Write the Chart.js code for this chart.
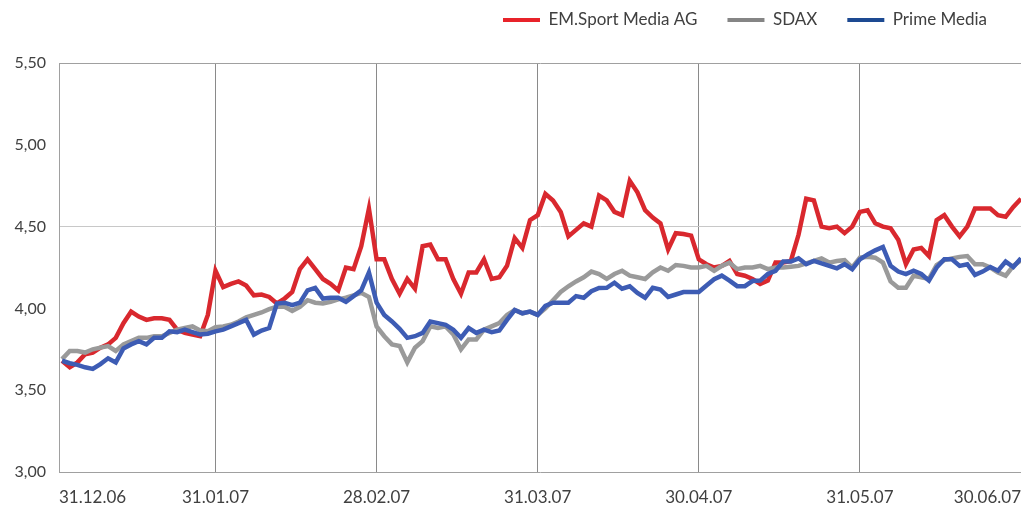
<!DOCTYPE html>
<html><head><meta charset="utf-8">
<script src="https://cdn.jsdelivr.net/npm/chart.js@4.4.1/dist/chart.umd.min.js"></script>
<style>html,body{margin:0;padding:0;background:#fff;overflow:hidden;}</style>
</head><body>
<canvas id="c" width="1021" height="505"></canvas>
<script>
const seriesNames = ['EM.Sport Media AG', 'SDAX', 'Prime Media'];
const emSport = [3.68,3.64,3.67,3.72,3.73,3.76,3.78,3.82,3.91,3.98,
3.95,3.93,3.94,3.94,3.93,3.87,3.85,3.84,3.83,3.96,
4.23,4.13,4.15,4.165,4.14,4.08,4.085,4.07,4.03,4.06,
4.10,4.24,4.30,4.24,4.18,4.15,4.11,4.25,4.24,4.38,
4.61,4.30,4.30,4.18,4.09,4.18,4.12,4.38,4.39,4.30,
4.30,4.18,4.09,4.22,4.22,4.30,4.18,4.19,4.26,4.43,
4.37,4.54,4.57,4.70,4.66,4.59,4.44,4.48,4.52,4.50,
4.69,4.66,4.59,4.57,4.78,4.71,4.60,4.555,4.52,4.36,
4.46,4.455,4.445,4.30,4.27,4.25,4.26,4.29,4.21,4.20,
4.18,4.15,4.17,4.28,4.28,4.29,4.45,4.67,4.66,4.50,
4.49,4.50,4.46,4.50,4.59,4.60,4.52,4.50,4.49,4.42,
4.27,4.36,4.37,4.32,4.54,4.57,4.50,4.44,4.50,4.61,
4.61,4.61,4.57,4.56,4.62,4.67];
const sdax = [3.69,3.74,3.74,3.73,3.75,3.76,3.77,3.74,3.78,3.80,
3.82,3.82,3.83,3.83,3.85,3.87,3.88,3.89,3.865,3.86,
3.885,3.89,3.90,3.92,3.945,3.96,3.975,3.995,4.01,4.01,
3.985,4.01,4.05,4.035,4.03,4.04,4.055,4.065,4.08,4.095,
4.07,3.89,3.83,3.78,3.77,3.67,3.76,3.80,3.89,3.88,
3.89,3.84,3.75,3.81,3.81,3.87,3.89,3.91,3.96,3.99,
3.97,3.98,3.96,4.00,4.05,4.10,4.135,4.165,4.19,4.225,
4.21,4.18,4.21,4.23,4.20,4.19,4.18,4.22,4.25,4.23,
4.265,4.26,4.25,4.25,4.26,4.23,4.26,4.28,4.24,4.25,
4.25,4.26,4.24,4.25,4.25,4.255,4.26,4.275,4.29,4.305,
4.28,4.29,4.295,4.25,4.31,4.315,4.31,4.28,4.165,4.126,
4.126,4.20,4.19,4.18,4.265,4.295,4.305,4.315,4.32,4.27,
4.27,4.25,4.22,4.20,4.26,4.295];
const primeMedia = [3.68,3.665,3.655,3.64,3.63,3.66,3.695,3.67,3.755,3.78,
3.80,3.78,3.82,3.82,3.86,3.855,3.87,3.855,3.84,3.845,
3.86,3.87,3.89,3.91,3.93,3.84,3.865,3.88,4.03,4.035,
4.02,4.035,4.11,4.125,4.06,4.065,4.065,4.04,4.075,4.11,
4.22,4.035,3.96,3.92,3.875,3.82,3.83,3.85,3.92,3.91,
3.90,3.87,3.82,3.88,3.85,3.87,3.855,3.865,3.93,3.99,
3.97,3.98,3.96,4.015,4.035,4.035,4.035,4.075,4.065,4.105,
4.125,4.126,4.157,4.12,4.135,4.095,4.065,4.126,4.115,4.07,
4.085,4.10,4.10,4.10,4.14,4.178,4.20,4.17,4.136,4.136,
4.167,4.17,4.21,4.23,4.286,4.286,4.306,4.27,4.29,4.275,
4.26,4.245,4.27,4.24,4.30,4.33,4.355,4.376,4.26,4.225,
4.21,4.23,4.21,4.17,4.25,4.30,4.30,4.26,4.27,4.205,
4.225,4.253,4.23,4.286,4.253,4.306];
const tickPositions = [-0.4, 20, 41, 62, 83, 104, 125];
const tickLabels = ['31.12.06','31.01.07','28.02.07','31.03.07','30.04.07','31.05.07','30.06.07'];
const lineColors = ['#d9282e', '#9a9a9a', '#3d5cb4'];
const legendColors = ['#e8232a', '#858585', '#1d4a92'];

const FONT = 'Lato, "Open Sans", sans-serif';
const LEG_PAD = 30;
const toPts = arr => arr.map((v, i) => ({x: i, y: v}));

const layoutFix = {
  id: 'layoutFix',
  beforeLayout(chart) {
    const lg = chart.legend;
    if (lg && !lg._patched) {
      const orig = lg.fit.bind(lg);
      lg.fit = function () { orig(); this.height = 63; };
      lg._patched = true;
    }
  },
  afterLayout(chart) {
    const lg = chart.legend;
    if (lg) {
      const dy = LEG_PAD + 8.5 - 20;
      lg.top -= dy; lg.bottom -= dy;
      lg.right = 987 + LEG_PAD;
    }
  }
};

new Chart(document.getElementById('c'), {
  type: 'line',
  data: {
    datasets: [
      {label: seriesNames[0], data: toPts(emSport), borderColor: lineColors[0], order: 3},
      {label: seriesNames[1], data: toPts(sdax), borderColor: lineColors[1], order: 2},
      {label: seriesNames[2], data: toPts(primeMedia), borderColor: lineColors[2], order: 1}
    ]
  },
  options: {
    responsive: false,
    animation: false,
    devicePixelRatio: 1,
    layout: {padding: 0},
    elements: {
      line: {borderWidth: 4.5, tension: 0, borderJoinStyle: 'miter', fill: false},
      point: {radius: 0, hoverRadius: 0}
    },
    plugins: {
      tooltip: {enabled: false},
      legend: {
        position: 'top',
        align: 'end',
        labels: {
          font: {family: FONT, size: 17},
          color: '#404040',
          boxWidth: 37,
          boxHeight: 4,
          padding: LEG_PAD,
          generateLabels: (chart) => seriesNames.map((n, i) => ({
            text: n, fillStyle: legendColors[i], strokeStyle: legendColors[i],
            lineWidth: 0, datasetIndex: i, hidden: false, fontColor: '#404040'
          }))
        }
      }
    },
    scales: {
      x: {
        type: 'linear',
        min: tickPositions[0],
        max: tickPositions[tickPositions.length - 1],
        afterBuildTicks: (scale) => { scale.ticks = tickPositions.map(v => ({value: v})); },
        afterFit: (scale) => { scale.height = 33; scale.paddingLeft = 0; scale.paddingRight = 0; },
        ticks: {
          callback: (v, i) => tickLabels[i],
          align: 'inner',
          maxRotation: 0,
          autoSkip: false,
          padding: 15,
          font: {family: FONT, size: 17},
          color: '#404040'
        },
        grid: {
          drawTicks: false,
          color: (ctx) => ctx.index === 0 ? 'rgba(0,0,0,0)' : (ctx.index === tickPositions.length - 1 ? '#d0d0d0' : '#8a8a8a'),
          lineWidth: 1
        },
        border: {display: true, color: '#a0a0a0', width: 1}
      },
      y: {
        min: 3, max: 5.5,
        afterFit: (scale) => { scale.width = 59; scale.paddingTop = 0; scale.paddingBottom = 0; },
        ticks: {
          stepSize: 0.5,
          callback: (v) => v.toFixed(2).replace('.', ','),
          padding: 13,
          font: {family: FONT, size: 16},
          color: '#404040'
        },
        grid: {
          drawTicks: false,
          color: (ctx) => {
            if (!ctx.tick) return 'rgba(0,0,0,0)';
            const v = ctx.tick.value;
            if (Math.abs(v - 5.5) < 1e-9) return '#a0a0a0';
            if (Math.abs(v - 4.5) < 1e-9) return '#c8c8c8';
            return 'rgba(0,0,0,0)';
          },
          lineWidth: 1
        },
        border: {display: true, color: '#a0a0a0', width: 1}
      }
    }
  },
  plugins: [layoutFix]
});
</script>
</body></html>
